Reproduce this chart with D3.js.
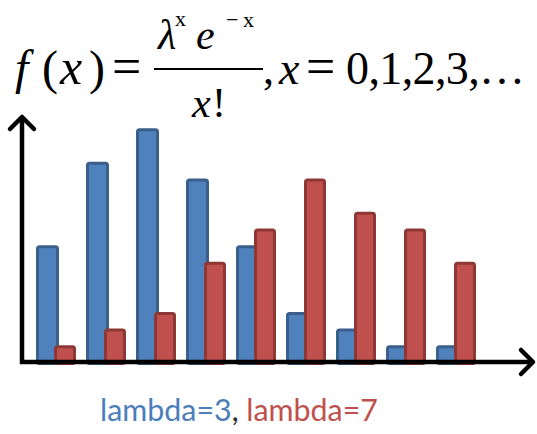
<!DOCTYPE html>
<html>
<head>
<meta charset="utf-8">
<script src="https://cdn.jsdelivr.net/npm/d3@7"></script>
<style>
  html, body { margin: 0; padding: 0; background: #fff; }
  svg { display: block; }
</style>
</head>
<body>
<svg id="chart" width="537" height="434"></svg>
<script>
// ---- data ----
const categories = ["0", "1", "2", "3", "4", "5", "6", "7", "8"];
const lambda3 = [7, 12, 14, 11, 7, 3, 2, 1, 1];
const lambda7 = [1, 2, 3, 6, 8, 11, 9, 8, 6];
const seriesNames = ["lambda=3", "lambda=7"];

const svg = d3.select("#chart");

const colors = {
  blueFill: "#4F81BD", blueStroke: "#3A5F8B",
  redFill: "#C0504D", redStroke: "#8E3835"
};

// scales
const x = d3.scaleBand().domain(categories).range([36, 486]).paddingInner(0).paddingOuter(0);
const y = d3.scaleLinear().domain([0, 14]).range([362, 128.3]);

const sw = 3;
const blueW = 23, redOff = 18, redW = 22;

const g = svg.append("g");

g.selectAll("rect.b").data(lambda3).join("rect")
  .attr("class", "b")
  .attr("x", (d, i) => x(categories[i]) + sw / 2)
  .attr("width", blueW - sw)
  .attr("y", d => y(d) + sw / 2)
  .attr("height", d => y(0) - y(d))
  .attr("rx", 2)
  .attr("fill", colors.blueFill)
  .attr("stroke", colors.blueStroke)
  .attr("stroke-width", sw);

g.selectAll("rect.r").data(lambda7).join("rect")
  .attr("class", "r")
  .attr("x", (d, i) => x(categories[i]) + redOff + sw / 2)
  .attr("width", redW - sw)
  .attr("y", d => y(d) + sw / 2)
  .attr("height", d => y(0) - y(d))
  .attr("rx", 2)
  .attr("fill", colors.redFill)
  .attr("stroke", colors.redStroke)
  .attr("stroke-width", sw);

// axes with arrows
const ax0 = 22, ay0 = y(0);
const axisG = svg.append("g").attr("fill", "none").attr("stroke", "#000")
  .attr("stroke-width", 4.5).attr("stroke-linecap", "round").attr("stroke-linejoin", "round");
axisG.append("path").attr("d", `M${ax0},117 L${ax0},${ay0} L533,${ay0}`).attr("stroke-linejoin", "miter").attr("stroke-linecap", "butt");
axisG.append("path").attr("d", `M${ax0 - 12},129 L${ax0},117 L${ax0 + 12},129`);
axisG.append("path").attr("d", `M521,${ay0 - 12} L533,${ay0} L521,${ay0 + 12}`);

// ---- formula ----
const F = svg.append("g").attr("font-family", "'Liberation Serif', 'Times New Roman', serif").attr("fill", "#000");
function t(str, px, py, size, italic) {
  return F.append("text").attr("x", px).attr("y", py).attr("font-size", size)
    .attr("font-style", italic ? "italic" : "normal").text(str);
}
t("f", 15, 84, 48, true);
t("(", 42, 84, 48, false);
t("x", 60, 84, 50, true);
t(")", 89, 84, 48, false);
t("=", 112, 84, 52, false);

t("λ", 158, 49, 42, true);
t("x", 175, 26, 22, false);
t("e", 196, 49, 42, true);
t("−", 226, 27, 22, false);
t("x", 243, 27, 22, false);

F.append("line").attr("x1", 154).attr("x2", 263).attr("y1", 69).attr("y2", 69)
  .attr("stroke", "#000").attr("stroke-width", 2);

t("x", 192, 117, 42, true);
t("!", 212, 117, 42, false);

t(",", 263, 84, 44, false);
t("x", 279, 84, 46, true);
t("=", 306, 84, 52, false);
t("0,1,2,3,…", 346, 84, 46, false)
  .attr("textLength", 179).attr("lengthAdjust", "spacing");

// ---- legend ----
const leg = svg.append("text").attr("x", 239).attr("y", 421)
  .attr("text-anchor", "middle")
  .attr("font-family", "Lato, 'Open Sans', sans-serif").attr("font-size", 30);
leg.append("tspan").attr("fill", "#4A7EBB").text(seriesNames[0]);
leg.append("tspan").attr("fill", "#2a2a2a").text(", ");
leg.append("tspan").attr("fill", "#C0504D").text(seriesNames[1]);
const lw = leg.node().getComputedTextLength();
leg.attr("font-size", 30 * 278 / lw);
</script>
</body>
</html>
